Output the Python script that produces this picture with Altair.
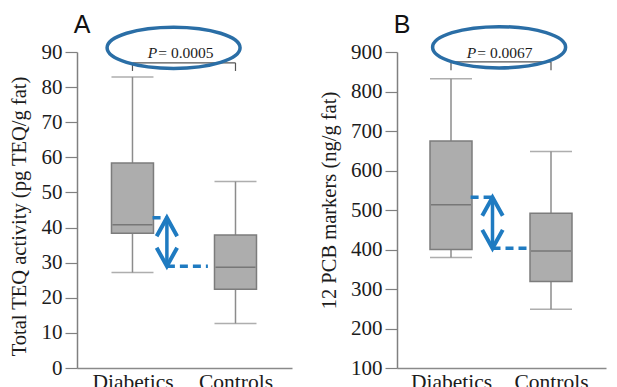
import altair as alt
import pandas as pd

# ---------------- data ----------------
groups = ["Diabetics", "Controls"]
positions = [0, 1]

teq_min = [27.2, 12.7]
teq_q1 = [38.4, 22.4]
teq_median = [40.8, 28.7]
teq_q3 = [58.4, 37.9]
teq_max = [82.9, 53.1]
teq_markers = [42.8, 29.0]
teq_ticks = [0, 10, 20, 30, 40, 50, 60, 70, 80, 90]

pcb_min = [380, 249]
pcb_q1 = [400, 319]
pcb_median = [513, 396]
pcb_q3 = [675, 492]
pcb_max = [832, 648]
pcb_markers = [532, 403]
pcb_ticks = [100, 200, 300, 400, 500, 600, 700, 800, 900]

p_values = ["0.0005", "0.0067"]
panel_letters = ["A", "B"]
y_titles = ["Total TEQ activity (pg TEQ/g fat)", "12 PCB markers (ng/g fat)"]

# ---------------- styling ----------------
SERIF = "Liberation Serif"
SANS = "Liberation Sans"
GREY = "#8c8c8c"
BOX_FILL = "#adadad"
BOX_STROKE = "#7c7c7c"
MED = "#606060"
BLUE = "#1f7bc1"
ELLIPSE_BLUE = "#2a6ea6"
TEXT = "#1c1c1c"
BOX_W = 42
X_DOMAIN = [-0.49, 1.5]

ELLIPSE = "M-1,0A1,0.31 0 1,1 1,0A1,0.31 0 1,1 -1,0Z"
UP = "M-1,1.8L0,0L1,1.8"
DOWN = "M-1,-1.8L0,0L1,-1.8"


def make_panel(stats, ticks, markers, pval, letter, ytitle, width, lay):
    xs = alt.Scale(domain=X_DOMAIN, nice=False, zero=False)
    ys = alt.Scale(domain=[ticks[0], ticks[-1]], nice=False, zero=False)
    xaxis = alt.Axis(
        values=positions,
        labelExpr=f"datum.value == 0 ? '{groups[0]}' : '{groups[1]}'",
        ticks=False, grid=False, title=None,
        labelFont=SERIF, labelFontSize=21.5, labelColor=TEXT, labelPadding=3,
        domainColor="#8a8a8a", domainWidth=1.5, labelFlush=False,
    )
    yaxis = alt.Axis(
        values=ticks, grid=False, title=ytitle,
        tickSize=12, tickColor="#808080", tickWidth=1.2,
        labelFont=SERIF, labelFontSize=21, labelColor=TEXT, labelPadding=3,
        domainColor="#808080", domainWidth=1.5,
        titleFont=SERIF, titleFontSize=20.5, titleFontWeight="normal",
        titleColor=TEXT, titlePadding=lay["title_pad"], titleY=lay["title_y"],
    )

    def X(f):
        return alt.X(f, type="quantitative", scale=xs, axis=xaxis)

    def Y(f):
        return alt.Y(f, type="quantitative", scale=ys, axis=yaxis)

    box = pd.DataFrame({
        "group": groups, "pos": positions,
        "lo": stats[0], "q1": stats[1], "med": stats[2],
        "q3": stats[3], "hi": stats[4],
    })
    base = alt.Chart(box)
    whisk = base.mark_rule(color=GREY, strokeWidth=1.5).encode(
        x=X("pos"), y=Y("lo"), y2="hi")
    bars = base.mark_bar(size=BOX_W, orient="vertical", fill=BOX_FILL,
                         stroke=BOX_STROKE, strokeWidth=1.5).encode(
        x=X("pos"), y=Y("q1"), y2="q3")
    cap_lo = base.mark_tick(orient="horizontal", size=BOX_W, thickness=1.5,
                            color=GREY).encode(x=X("pos"), y=Y("lo"))
    cap_hi = base.mark_tick(orient="horizontal", size=BOX_W, thickness=1.5,
                            color=GREY).encode(x=X("pos"), y=Y("hi"))
    med = base.mark_tick(orient="horizontal", size=BOX_W - 2, thickness=1.5,
                         color=MED).encode(x=X("pos"), y=Y("med"))

    ax = lay["arrow_x"]
    dash_df = pd.DataFrame({"x1": [lay["box_edge"], ax],
                            "x2": [ax, lay["dash_end"]], "y": markers})
    dashes = alt.Chart(dash_df).mark_rule(
        color=BLUE, strokeWidth=3.5, strokeDash=[8, 5]).encode(
        x=X("x1"), x2="x2", y=Y("y"))
    shaft_df = pd.DataFrame({"x": [ax], "y1": [markers[0]], "y2": [markers[1]]})
    shaft = alt.Chart(shaft_df).mark_rule(color=BLUE, strokeWidth=3.5).encode(
        x=X("x"), y=Y("y1"), y2="y2")
    head_up = alt.Chart(pd.DataFrame({"x": [ax], "y": [markers[0]]})).mark_point(
        shape=UP, size=420, filled=False, color=BLUE, strokeWidth=4,
        opacity=1, strokeJoin="miter").encode(x=X("x"), y=Y("y"))
    head_dn = alt.Chart(pd.DataFrame({"x": [ax], "y": [markers[1]]})).mark_point(
        shape=DOWN, size=420, filled=False, color=BLUE, strokeWidth=4,
        opacity=1, strokeJoin="miter").encode(x=X("x"), y=Y("y"))

    br_df = pd.DataFrame({"x1": [positions[0]], "x2": [positions[1]],
                          "y": [lay["br_top"]]})
    bracket = alt.Chart(br_df).mark_rule(color="#555555", strokeWidth=1.2).encode(
        x=X("x1"), x2="x2", y=Y("y"))
    legs_df = pd.DataFrame({"x": positions, "y1": [lay["br_top"]] * 2,
                            "y2": [lay["br_bot"]] * 2})
    legs = alt.Chart(legs_df).mark_rule(color="#555555", strokeWidth=1.2).encode(
        x=X("x"), y=Y("y1"), y2="y2")

    ell = alt.Chart(pd.DataFrame({"x": [lay["ell_x"]], "y": [lay["ell_y"]]})).mark_point(
        shape=ELLIPSE, size=133 * 133, filled=False, color=ELLIPSE_BLUE,
        strokeWidth=3.5, opacity=1).encode(x=X("x"), y=Y("y"))

    t_df = pd.DataFrame({"x": [lay["p_x"]], "y": [lay["p_y"]]})
    p_lbl = alt.Chart(t_df).mark_text(
        text="P", font=SERIF, fontStyle="italic", fontSize=15.5, color=TEXT,
        align="right", baseline="alphabetic").encode(x=X("x"), y=Y("y"))
    p_val = alt.Chart(t_df).mark_text(
        text=" = " + pval, font=SERIF, fontSize=15.5, color=TEXT, dx=1,
        align="left", baseline="alphabetic").encode(x=X("x"), y=Y("y"))

    let = alt.Chart(pd.DataFrame({"x": [X_DOMAIN[0]], "y": [lay["let_y"]]})).mark_text(
        text=letter, font=SANS, fontSize=25, color="#111111",
        align="center", baseline="alphabetic").encode(x=X("x"), y=Y("y"))

    return alt.layer(whisk, bars, cap_lo, cap_hi, med, bracket, legs, ell,
                     p_lbl, p_val, dashes, shaft, head_up, head_dn, let).properties(
        width=width, height=316)


panel_a = make_panel(
    [teq_min, teq_q1, teq_median, teq_q3, teq_max], teq_ticks, teq_markers,
    p_values[0], panel_letters[0], y_titles[0], 215,
    dict(arrow_x=0.334, box_edge=0.195, dash_end=0.732, br_top=86.9, br_bot=84.6,
         ell_x=0.399, ell_y=91.2, p_x=0.241, p_y=88.3, let_y=95.4, title_y=164,
         title_pad=12))
panel_b = make_panel(
    [pcb_min, pcb_q1, pcb_median, pcb_q3, pcb_max], pcb_ticks, pcb_markers,
    p_values[1], panel_letters[1], y_titles[1], 209,
    dict(arrow_x=0.415, box_edge=0.196, dash_end=0.796, br_top=875, br_bot=854,
         ell_x=0.481, ell_y=912, p_x=0.253, p_y=885, let_y=948, title_y=148,
         title_pad=11))

chart = alt.hconcat(panel_a, panel_b, spacing=27).properties(
    padding={"left": 9, "top": 13, "right": 5, "bottom": 0},
    background="white",
).configure_view(stroke=None).configure_axis(
    labelFont=SERIF, titleFont=SERIF
)

chart.save("out.html", embed_options={"renderer": "svg", "actions": False})
